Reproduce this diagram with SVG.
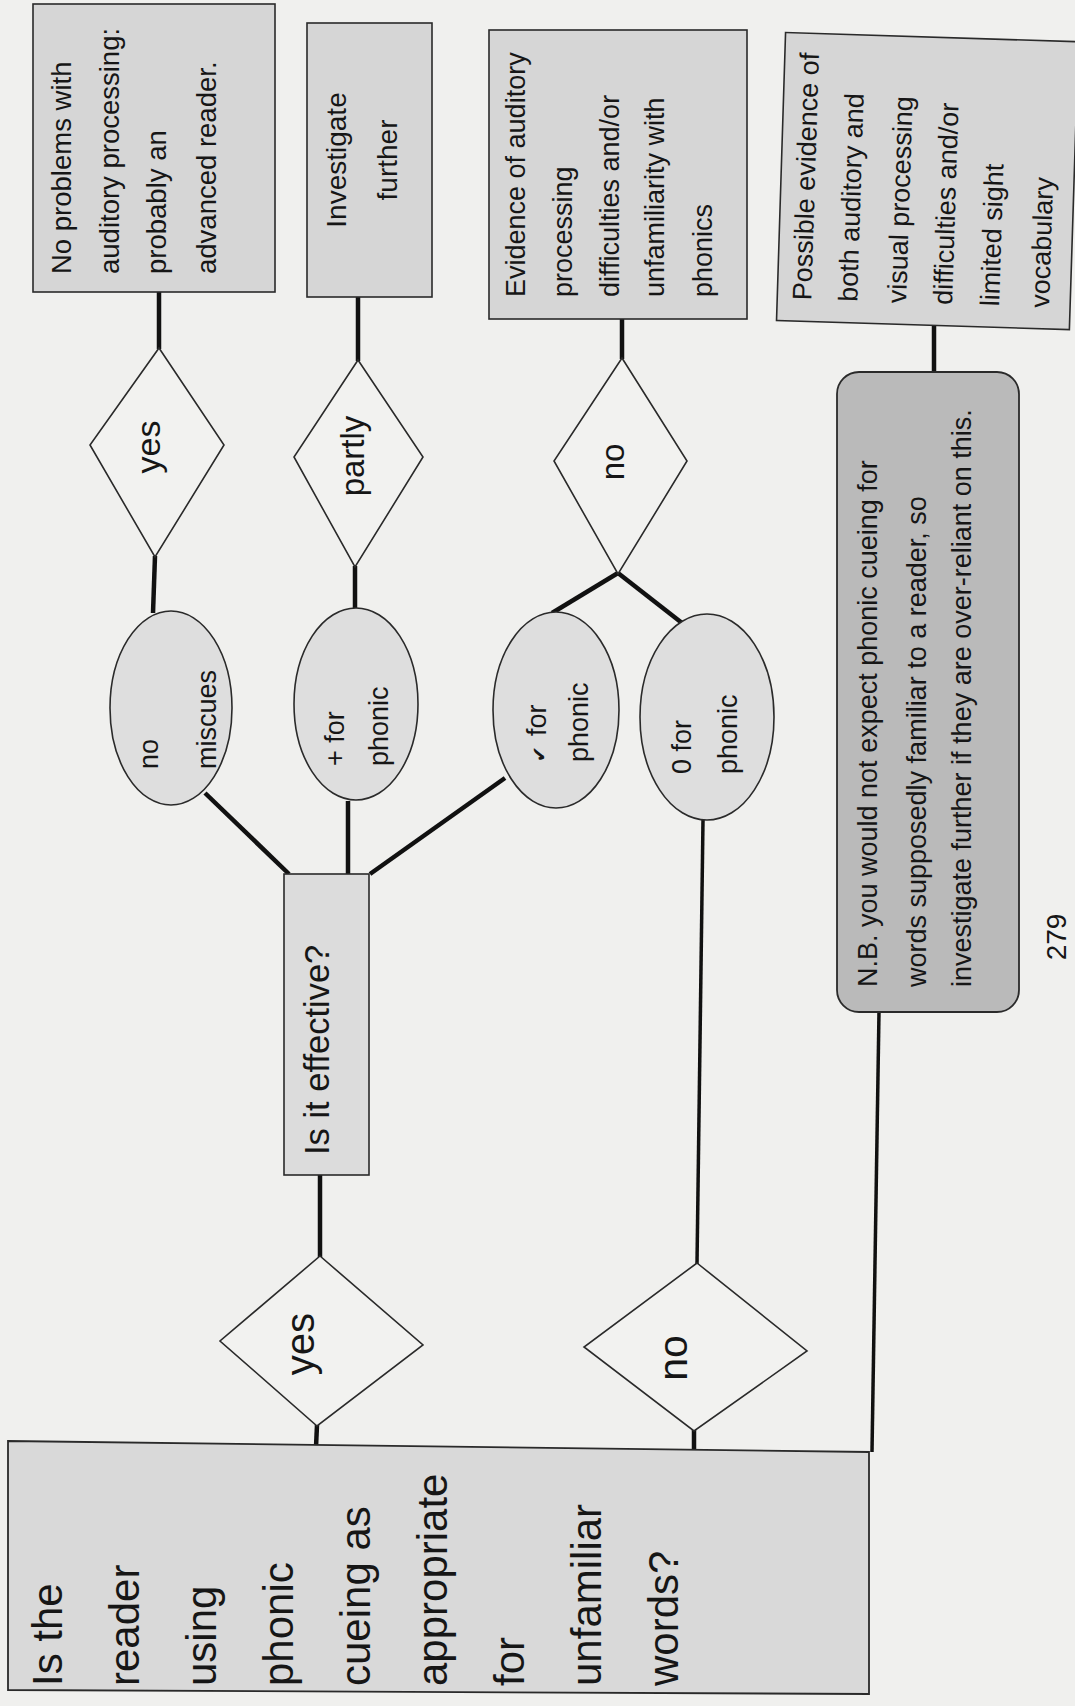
<svg xmlns="http://www.w3.org/2000/svg" width="1075" height="1706" viewBox="0 0 1075 1706">
<style>
.t{font-family:"Liberation Sans",Arial,sans-serif;fill:#161616}
.s27{font-size:27px}
.box{fill:#d6d6d6;stroke:#2a2a2a;stroke-width:1.6}
.ell{fill:#dedede;stroke:#2a2a2a;stroke-width:1.6}
.dia{fill:#f2f2f0;stroke:#2a2a2a;stroke-width:1.6}
.c{stroke:#111;stroke-width:4.5;fill:none;stroke-linecap:butt}
.c2{stroke:#111;stroke-width:3.5;fill:none}
</style>
<rect x="0" y="0" width="1075" height="1706" fill="#f0f0ee"/>

<g id="connectors">
<line class="c" x1="159" y1="292" x2="159" y2="349"/>
<line class="c" x1="155" y1="556" x2="153" y2="613"/>
<line class="c" x1="358" y1="297" x2="358" y2="361"/>
<line class="c" x1="355" y1="566" x2="355" y2="609"/>
<line class="c" x1="205" y1="793" x2="289" y2="874"/>
<line class="c" x1="348" y1="801" x2="348" y2="874"/>
<line class="c" x1="505" y1="778" x2="370" y2="874"/>
<line class="c" x1="622" y1="319" x2="622" y2="359"/>
<line class="c" x1="618" y1="573" x2="552" y2="613"/>
<line class="c" x1="618" y1="573" x2="682" y2="623"/>
<line class="c2" x1="703" y1="820" x2="697" y2="1264"/>
<line class="c" x1="694" y1="1430" x2="694" y2="1450"/>
<line class="c" x1="320" y1="1175" x2="320" y2="1257"/>
<line class="c" x1="317" y1="1425" x2="316" y2="1447"/>
<line class="c" x1="934" y1="326" x2="934" y2="373"/>
<line class="c2" x1="879" y1="1012" x2="872" y2="1452"/>
</g>

<g id="n-noproblems">
<rect class="box" x="33" y="4" width="242" height="288"/>
<text class="t" font-size="27.5" transform="translate(71 274) rotate(-90)"><tspan x="0" y="0">No problems with</tspan><tspan x="0" y="48">auditory processing:</tspan><tspan x="0" y="95">probably an</tspan><tspan x="0" y="145">advanced reader.</tspan></text>
</g>

<g id="n-investigate">
<rect class="box" x="307" y="23" width="125" height="274"/>
<text class="t" font-size="28" text-anchor="middle" transform="translate(346 160) rotate(-90)"><tspan x="0" y="0">Investigate</tspan><tspan x="0" y="51">further</tspan></text>
</g>

<g id="n-evidence">
<rect class="box" x="489" y="30" width="258" height="289"/>
<text class="t s27" transform="translate(525 297) rotate(-90)"><tspan x="0" y="0">Evidence of auditory</tspan><tspan x="0" y="47">processing</tspan><tspan x="0" y="94">difficulties and/or</tspan><tspan x="0" y="139">unfamiliarity with</tspan><tspan x="0" y="187">phonics</tspan></text>
</g>

<g id="n-possible" transform="rotate(1.8 925 180)">
<rect class="box" x="781" y="37" width="293" height="288"/>
<text class="t s27" transform="translate(815 304) rotate(-90)"><tspan x="0" y="0">Possible evidence of</tspan><tspan x="0" y="46">both auditory and</tspan><tspan x="0" y="95">visual processing</tspan><tspan x="0" y="141">difficulties and/or</tspan><tspan x="0" y="188">limited sight</tspan><tspan x="0" y="238">vocabulary</tspan></text>
</g>

<g id="n-yes1">
<polygon class="dia" points="159,348 224,445 155,557 90,445"/>
<text class="t" font-size="34" text-anchor="middle" transform="translate(160 447) rotate(-90)">yes</text>
</g>

<g id="n-partly">
<polygon class="dia" points="358,360 423,457 355,567 294,457"/>
<text class="t" font-size="33" text-anchor="middle" transform="translate(364 456) rotate(-90)">partly</text>
</g>

<g id="n-no1">
<polygon class="dia" points="622,358 687,461 618,574 554,461"/>
<text class="t" font-size="33" text-anchor="middle" transform="translate(624 462) rotate(-90)">no</text>
</g>

<g id="n-nomiscues">
<ellipse class="ell" cx="171" cy="708" rx="61" ry="97"/>
<text class="t s27" transform="translate(158 769) rotate(-90)"><tspan x="0" y="0">no</tspan><tspan x="0" y="58">miscues</tspan></text>
</g>

<g id="n-plusphonic">
<ellipse class="ell" cx="356" cy="704" rx="62" ry="96"/>
<text class="t s27" transform="translate(344 766) rotate(-90)"><tspan x="0" y="0">+ for</tspan><tspan x="0" y="44">phonic</tspan></text>
</g>

<g id="n-tickphonic">
<ellipse class="ell" cx="556" cy="710" rx="63" ry="98"/>
<text class="t s27" transform="translate(546 762) rotate(-90)"><tspan x="0" y="0" font-family="'DejaVu Sans',sans-serif" font-size="19" font-weight="bold">✔</tspan><tspan dx="10">for</tspan><tspan x="0" y="42">phonic</tspan></text>
</g>

<g id="n-zerophonic">
<ellipse class="ell" cx="707" cy="717" rx="67" ry="103"/>
<text class="t s27" transform="translate(691 774) rotate(-90)"><tspan x="0" y="0">0 for</tspan><tspan x="0" y="46">phonic</tspan></text>
</g>

<g id="n-effective">
<rect x="284" y="874" width="85" height="301" fill="#dcdcdc" stroke="#2a2a2a" stroke-width="1.6"/>
<text class="t" font-size="34.5" transform="translate(329 1155) rotate(-90)">Is it effective?</text>
</g>

<g id="n-nb">
<rect x="837" y="372" width="182" height="640" rx="22" ry="22" fill="#bababa" stroke="#2a2a2a" stroke-width="1.8"/>
<text class="t s27" transform="translate(877 987) rotate(-90)"><tspan x="0" y="0">N.B. you would not expect phonic cueing for</tspan><tspan x="0" y="49">words supposedly familiar to a reader, so</tspan><tspan x="0" y="94">investigate further if they are over-reliant on this.</tspan></text>
</g>

<g id="n-yes2">
<polygon class="dia" points="320,1256 423,1345 317,1426 220,1341"/>
<text class="t" font-size="40" text-anchor="middle" transform="translate(314 1344) rotate(-90)">yes</text>
</g>

<g id="n-no2">
<polygon class="dia" points="697,1263 807,1351 694,1431 584,1347"/>
<text class="t" font-size="41" text-anchor="middle" transform="translate(687 1358) rotate(-90)">no</text>
</g>

<g id="n-question">
<polygon points="8,1441 869,1452 869,1694 8,1690" fill="#d9d9d9" stroke="#2a2a2a" stroke-width="1.8"/>
<text class="t" font-size="42" transform="translate(62 1686) rotate(-90)"><tspan x="0" y="0">Is the</tspan><tspan x="0" y="77">reader</tspan><tspan x="0" y="154">using</tspan><tspan x="0" y="231">phonic</tspan><tspan x="0" y="308">cueing as</tspan><tspan x="0" y="385">appropriate</tspan><tspan x="0" y="462">for</tspan><tspan x="0" y="539">unfamiliar</tspan><tspan x="0" y="616">words?</tspan></text>
</g>

<text class="t" font-size="28" text-anchor="middle" transform="translate(1066 937) rotate(-90)">279</text>
</svg>
